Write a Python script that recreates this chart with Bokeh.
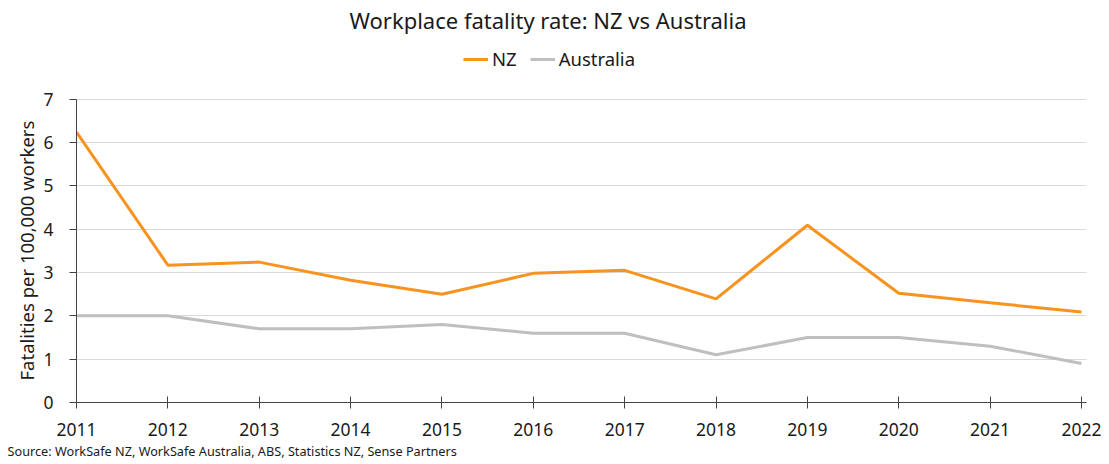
from bokeh.plotting import figure
from bokeh.models import Legend, LegendItem, Title, FixedTicker, Range1d, ColumnDataSource
from bokeh.embed import file_html
from bokeh.resources import INLINE

years = [2011, 2012, 2013, 2014, 2015, 2016, 2017, 2018, 2019, 2020, 2021, 2022]
nz = [6.24, 3.17, 3.24, 2.82, 2.50, 2.98, 3.05, 2.39, 4.09, 2.52, 2.30, 2.09]
australia = [2.0, 2.0, 1.7, 1.7, 1.8, 1.6, 1.6, 1.1, 1.5, 1.5, 1.3, 0.9]
y_ticks = [0, 1, 2, 3, 4, 5, 6, 7]

FONT = "Noto Sans"
TXT = "#1a1a1a"

p = figure(width=1109, height=464, output_backend="svg", toolbar_location=None,
           x_range=Range1d(2011, 2022.055), y_range=Range1d(0, 8.423),
           min_border_left=76, min_border_right=23, min_border_top=35, min_border_bottom=62)
p.outline_line_color = None
p.background_fill_color = "white"

src = ColumnDataSource(dict(year=years, nz=nz, au=australia))
r_nz = p.line("year", "nz", source=src, line_color="#F7931E", line_width=3)
r_au = p.line("year", "au", source=src, line_color="#BFBFBF", line_width=3)

p.title.text = "Workplace fatality rate: NZ vs Australia"
p.title.align = "left"
p.title.offset = 273
p.title.text_font = FONT
p.title.text_font_size = "22px"
p.title.text_font_style = "normal"
p.title.text_color = TXT
p.title.standoff = 5

legend = Legend(items=[LegendItem(label="NZ", renderers=[r_nz]),
                       LegendItem(label="Australia", renderers=[r_au])],
                orientation="horizontal", location=(387, 331))
legend.label_text_font = FONT
legend.label_text_font_size = "18.5px"
legend.label_text_color = TXT
legend.glyph_width = 25
legend.label_standoff = 4
legend.spacing = 13
legend.border_line_color = None
legend.background_fill_alpha = 0
legend.padding = 4
legend.margin = 0
p.add_layout(legend)

ylab = Title(text="Fatalities per 100,000 workers", align="left", offset=22,
             text_font=FONT, text_font_size="18.5px", text_font_style="normal",
             text_color=TXT, standoff=4)
p.add_layout(ylab, "left")

src_title = Title(text="Source: WorkSafe NZ, WorkSafe Australia, ABS, Statistics NZ, Sense Partners",
                  align="left", text_font=FONT, text_font_size="12.7px",
                  text_font_style="normal", text_color=TXT, offset=-69, standoff=2)
p.add_layout(src_title, "below")

p.xaxis.ticker = FixedTicker(ticks=years)
p.xaxis.major_label_text_font = FONT
p.xaxis.major_label_text_font_size = "17.5px"
p.xaxis.major_label_text_color = TXT
p.xaxis.axis_line_color = "#444444"
p.xaxis.major_tick_line_color = "#444444"
p.xaxis.major_tick_in = 6
p.xaxis.major_tick_out = 6
p.xaxis.minor_tick_line_color = None
p.xaxis.major_label_standoff = 14

p.yaxis.ticker = FixedTicker(ticks=y_ticks)
p.yaxis.bounds = (0, 7)
p.yaxis.major_label_text_font = FONT
p.yaxis.major_label_text_font_size = "17.5px"
p.yaxis.major_label_text_color = TXT
p.yaxis.axis_line_color = "#444444"
p.yaxis.major_tick_line_color = "#444444"
p.yaxis.major_tick_in = 0
p.yaxis.major_tick_out = 7
p.yaxis.minor_tick_line_color = None
p.yaxis.major_label_standoff = 16

p.xgrid.grid_line_color = None
p.ygrid.grid_line_color = "#D9D9D9"
p.ygrid.grid_line_width = 1

open("out.html", "w").write(file_html(p, INLINE))
